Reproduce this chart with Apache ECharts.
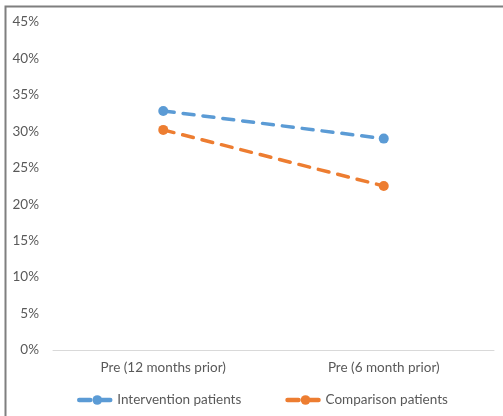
<!DOCTYPE html>
<html>
<head>
<meta charset="utf-8">
<script src="https://cdn.jsdelivr.net/npm/echarts@6/dist/echarts.min.js"></script>
<style>
  html, body { margin: 0; padding: 0; background: #fff; }
  #chart { width: 503px; height: 416px; }
</style>
</head>
<body>
<div id="chart"></div>
<script>
// Time points on the x axis
const categories = ['Pre (12 months prior)', 'Pre (6 month prior)'];
// Share of patients at each time point (%)
const interventionValues = [32.8, 29.0];
const comparisonValues = [30.2, 22.5];
// Y axis range and step (%)
const yMin = 0, yMax = 45, yStep = 5;

const textColor = '#595959';
const fontFamily = 'Lato, "Open Sans", "Noto Sans", sans-serif';
const fontSize = 13.5;

const chart = echarts.init(document.getElementById('chart'), null, { renderer: 'canvas' });

function lineSeries(name, data, color) {
  return {
    name: name,
    type: 'line',
    data: data,
    symbol: 'circle',
    symbolSize: 10,
    itemStyle: { color: color },
    lineStyle: { color: color, width: 3.5, type: [11, 9], cap: 'round' },
    emphasis: { disabled: true },
    animation: false
  };
}

chart.setOption({
  backgroundColor: '#ffffff',
  animation: false,
  textStyle: { fontFamily: fontFamily },
  graphic: [{
    type: 'rect',
    shape: { x: 5.5, y: 6.5, width: 600, height: 500 },
    style: { fill: 'none', stroke: '#7f7f7f', lineWidth: 2 },
    silent: true
  }],
  grid: { left: 53, right: 9, top: 22, bottom: 66, containLabel: false },
  legend: {
    left: 72,
    top: 388,
    itemWidth: 36,
    itemHeight: 12,
    itemGap: 44,
    lineStyle: { width: 4.5, cap: 'round' },
    textStyle: { color: textColor, fontSize: fontSize, fontFamily: fontFamily, padding: [0, 0, 0, -3] },
    data: ['Intervention patients', 'Comparison patients']
  },
  xAxis: {
    type: 'category',
    data: categories,
    boundaryGap: true,
    axisLine: { show: true, lineStyle: { color: '#d9d9d9', width: 1 } },
    axisTick: { show: false },
    axisLabel: { color: textColor, fontSize: fontSize, margin: 11, fontFamily: fontFamily },
    splitLine: { show: false }
  },
  yAxis: {
    type: 'value',
    min: yMin,
    max: yMax,
    interval: yStep,
    axisLine: { show: false },
    axisTick: { show: false },
    splitLine: { show: false },
    axisLabel: { color: textColor, fontSize: fontSize, margin: 14, fontFamily: fontFamily,
                 formatter: v => v + '%' }
  },
  series: [
    lineSeries('Intervention patients', interventionValues, '#5b9bd5'),
    lineSeries('Comparison patients', comparisonValues, '#ed7d31')
  ]
});
</script>
</body>
</html>
